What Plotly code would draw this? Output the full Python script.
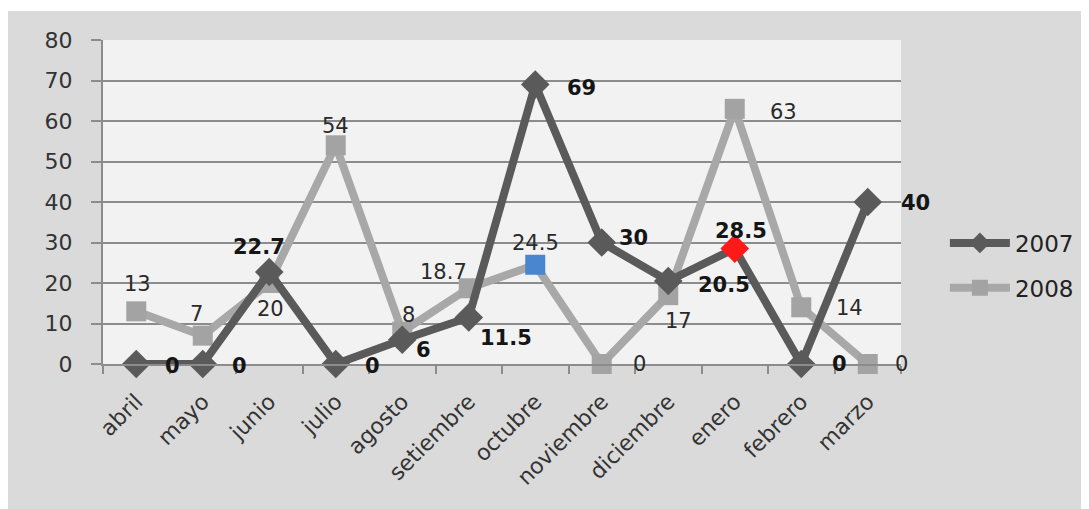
import plotly.graph_objects as go

months = ["abril", "mayo", "junio", "julio", "agosto", "setiembre", "octubre",
          "noviembre", "diciembre", "enero", "febrero", "marzo"]
v2007 = [0, 0, 22.7, 0, 6, 11.5, 69, 30, 20.5, 28.5, 0, 40]
v2008 = [13, 7, 20, 54, 8, 18.7, 24.5, 0, 17, 63, 14, 0]

# label offsets in pixels (dx right, dy down) for each point
off2007 = [(36, 2), (37, 2), (-10, -25), (37, 2), (21, 10), (37, 21),
           (46, 3), (32, -5), (56, 4), (6, -18), (38, 0), (48, 1)]
off2008 = [(1, -27), (-6, -22), (1, 26), (0, -19), (6, -17), (-25, -16),
           (0, -22), (38, 0), (10, 26), (49, 3), (48, 1), (34, 0)]

c2007 = ["#5a5a5a"] * 12
c2007[9] = "#ff1a1a"
c2008 = ["#a3a3a3"] * 12
c2008[6] = "#4a86d0"

FONT = "DejaVu Sans"

fig = go.Figure()
fig.add_trace(go.Scatter(
    x=months, y=v2008, name="2008", mode="lines+markers",
    line=dict(color="#a8a8a8", width=8),
    marker=dict(symbol="square", size=20, color=c2008, line=dict(width=0)),
    cliponaxis=False, legendgroup="b", legendrank=2,
))
fig.add_trace(go.Scatter(
    x=months, y=v2007, name="2007", mode="lines+markers",
    line=dict(color="#5a5a5a", width=8),
    marker=dict(symbol="diamond", size=22, color=c2007, line=dict(width=0)),
    cliponaxis=False, legendgroup="a", legendrank=1,
))

annotations = []
for m, v, (dx, dy) in zip(months, v2007, off2007):
    annotations.append(dict(x=m, y=v, text=str(v), showarrow=False,
                            xshift=dx, yshift=-dy,
                            font=dict(family=FONT, size=21, color="#151515",
                                      weight="bold")))
for m, v, (dx, dy) in zip(months, v2008, off2008):
    annotations.append(dict(x=m, y=v, text=str(v), showarrow=False,
                            xshift=dx, yshift=-dy,
                            font=dict(family=FONT, size=21, color="#2a2a2a")))

fig.update_layout(
    width=1089, height=509,
    margin=dict(l=95, r=196, t=32, b=153),
    paper_bgcolor="#dadada",
    plot_bgcolor="#f2f2f2",
    font=dict(family=FONT, color="#333333"),
    showlegend=True,
    legend=dict(x=1.055, y=0.44, xanchor="left", yanchor="top",
                bgcolor="rgba(0,0,0,0)", font=dict(size=23, color="#222222"),
                traceorder="grouped", tracegroupgap=12, itemwidth=60),
    xaxis=dict(type="category", tickangle=-45, tickson="boundaries",
               ticks="outside", ticklen=8, tickcolor="#8c8c8c", tickwidth=2,
               showline=True, linecolor="#8c8c8c", linewidth=2,
               showgrid=False, tickfont=dict(size=22, color="#333333"),
               ticklabelstandoff=14, range=[-0.5, 11.5]),
    yaxis=dict(range=[0, 80], dtick=10, showgrid=True, gridcolor="#8c8c8c",
               gridwidth=2, ticks="outside", ticklen=10, tickcolor="#8c8c8c",
               tickwidth=2, showline=True, linecolor="#8c8c8c", linewidth=2,
               zeroline=False, tickfont=dict(size=22, color="#333333"),
               ticklabelstandoff=14),
    annotations=annotations,
    shapes=[
        dict(type="rect", xref="paper", yref="paper", x0=-0.2, x1=1.3,
             y0=1.0 + 29 / 324, y1=1.2, fillcolor="white", line=dict(width=0),
             layer="above"),
    ],
)

fig.write_html("out.html")
